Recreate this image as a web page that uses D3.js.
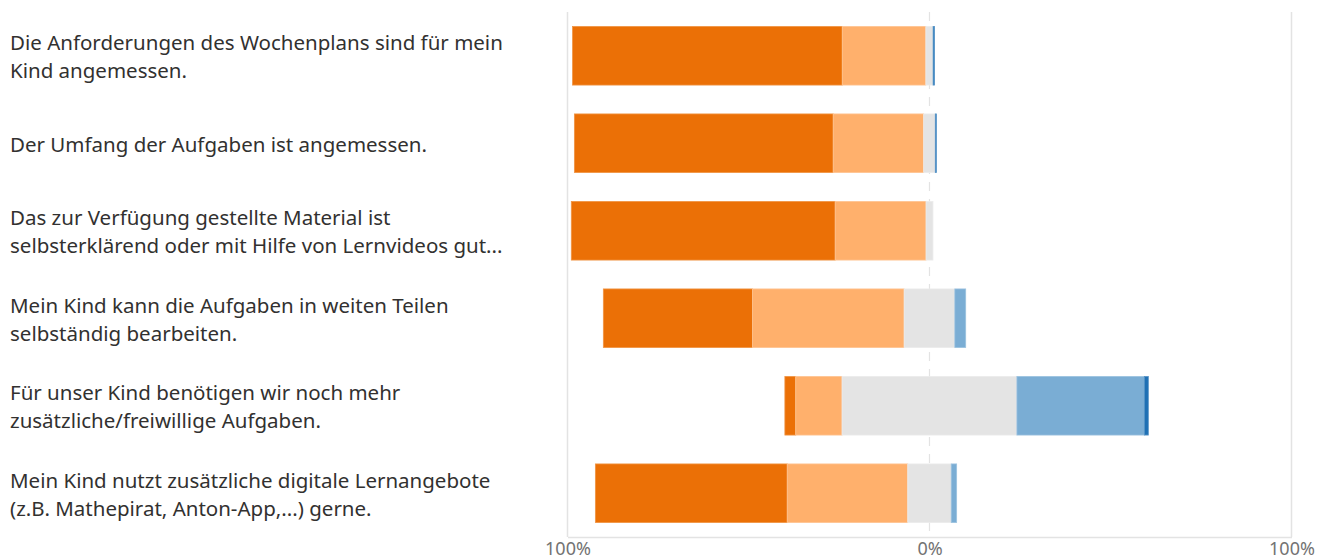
<!DOCTYPE html>
<html>
<head>
<meta charset="utf-8">
<script src="https://cdn.jsdelivr.net/npm/d3@7"></script>
<style>
  body { margin: 0; background: #fff; }
  text { font-family: "Noto Sans", "Open Sans", sans-serif; }
  .label { fill: #323130; font-size: 20.5px; }
  .tick text { fill: #737373; font-size: 18px; }
</style>
</head>
<body>
<div id="chartDiv"></div>
<script>
// questions, already wrapped like in the original
const questions = [
    ["Die Anforderungen des Wochenplans sind für mein", "Kind angemessen."],
    ["Der Umfang der Aufgaben ist angemessen."],
    ["Das zur Verfügung gestellte Material ist", "selbsterklärend oder mit Hilfe von Lernvideos gut..."],
    ["Mein Kind kann die Aufgaben in weiten Teilen", "selbständig bearbeiten."],
    ["Für unser Kind benötigen wir noch mehr", "zusätzliche/freiwillige Aufgaben."],
    ["Mein Kind nutzt zusätzliche digitale Lernangebote", "(z.B. Mathepirat, Anton-App,...) gerne."]
];

// percent per answer
const stronglyAgree    = [74.5, 71.5, 72.9, 41.2,  3.0, 53.0];
const agree            = [23.1, 25.0, 25.1, 41.9, 12.8, 33.3];
const neutral          = [ 2.0,  3.2,  1.9, 14.0, 48.3, 12.0];
const disagree         = [ 0.0,  0.0,  0.0,  3.0, 35.2,  1.5];
const stronglyDisagree = [ 0.4,  0.3,  0.0,  0.0,  1.1,  0.0];

const tickValues = [-100, 0, 100];

const seriesColors = ["#eb7006", "#ffb06c", "#e4e4e4", "#7aadd4", "#1f70b4"];

const width = 1334, height = 559;

let svg = d3.select("#chartDiv").append("svg")
    .attr("width", width)
    .attr("height", height);

let x = d3.scaleLinear()
    .domain([-100, 100])
    .range([567.5, 1291.5]);

let y = d3.scaleBand()
    .domain(d3.range(questions.length))
    .range([12, 537])
    .paddingInner(0.33)
    .paddingOuter(0.165);

// grid lines (outer solid, zero dashed)
svg.append("g")
    .selectAll("line")
    .data(tickValues)
    .enter()
    .append("line")
    .attr("x1", d => x(d))
    .attr("x2", d => x(d))
    .attr("y1", y.range()[0])
    .attr("y2", y.range()[1])
    .attr("stroke", "#e3e3e3")
    .attr("stroke-width", d => d === 0 ? 1.2 : 1.5)
    .attr("stroke-dasharray", d => d === 0 ? "9,8" : null);

// bottom axis
let xAxis = d3.axisBottom(x)
    .tickValues(tickValues)
    .tickSize(0)
    .tickPadding(5)
    .tickFormat(d => Math.abs(d) + "%");

let axisG = svg.append("g")
    .attr("transform", `translate(0, ${y.range()[1]})`)
    .call(xAxis);
axisG.select(".domain").attr("stroke", "#e3e3e3").attr("stroke-width", 1.5);
axisG.selectAll(".tick text").attr("font-family", null).attr("font-size", null);

// build the segments, neutral centered on zero
const series = [stronglyAgree, agree, neutral, disagree, stronglyDisagree];
let segments = [];
questions.forEach((q, i) => {
    let start = -(stronglyAgree[i] + agree[i] + neutral[i] / 2);
    series.forEach((s, k) => {
        segments.push({ row: i, k: k, x0: start, x1: start + s[i] });
        start += s[i];
    });
});

svg.append("g")
    .selectAll("rect.bar")
    .data(segments.filter(d => d.x1 > d.x0))
    .enter()
    .append("rect")
    .attr("class", "bar")
    .attr("x", d => x(d.x0))
    .attr("width", d => x(d.x1) - x(d.x0))
    .attr("y", d => y(d.row))
    .attr("height", y.bandwidth())
    .attr("fill", d => seriesColors[d.k])
    .attr("stroke", d => d3.interpolateRgb(seriesColors[d.k], "#fff")(0.25))
    .attr("stroke-width", 0.8);

// question labels
const lineHeight = 28.3;
let labels = svg.append("g")
    .selectAll("text.label")
    .data(questions)
    .enter()
    .append("text")
    .attr("class", "label")
    .attr("x", 10)
    .attr("y", (d, i) => y(i) + y.bandwidth() / 2 + 8.5);

labels.selectAll("tspan")
    .data(d => d.map((line, j) => ({ line: line, j: j, n: d.length })))
    .enter()
    .append("tspan")
    .attr("x", 10)
    .attr("dy", d => d.j === 0 ? -(d.n - 1) * lineHeight / 2 : lineHeight)
    .text(d => d.line);
</script>
</body>
</html>
